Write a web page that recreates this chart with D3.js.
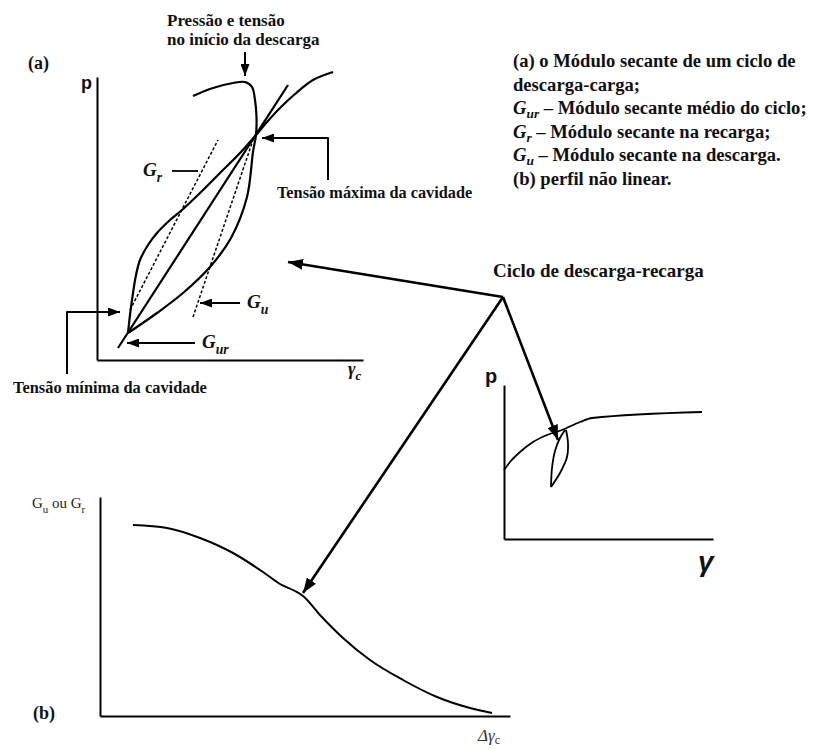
<!DOCTYPE html>
<html>
<head>
<meta charset="utf-8">
<script src="https://cdn.jsdelivr.net/npm/d3@7"></script>
<style>
  body { margin: 0; background: #fff; }
  svg { display: block; }
</style>
</head>
<body>
<svg id="fig" width="816" height="749"></svg>
<script>
// ---------- Panel (a): one unloading–reloading cycle, p vs γc ----------
// Virgin loading up to the start of unloading, then the unloading branch down to the minimum
const unloadCurve = [[96,264],[116,272],[136,277],[148,278],[155,273],[158,260],[159.5,243],[159,225],
                     [156,208],[150,163],[134,122],[113,93],[86,67],[60,47],[31,27]];
// Reloading branch from the minimum back through the maximum and onward
const reloadCurve = [[31,27],[33,45],[35,60],[39,85],[43,100],[51,115],[60,127],[73,140],[85,150],
                     [103,167],[123,187],[143,207],[159,225],[170,238],[183,252],[198,266],[216,280],[236,288]];
const gurLine = [[21,12],[191,275]];     // mean secant modulus of the cycle
const grLine  = [[33,50],[121,220]];     // secant modulus on reloading (dashed)
const guLine  = [[96,43],[156,220]];     // secant modulus on unloading (dashed)

// Leaders and arrows in panel (a) units
const grLeader   = [[75,189],[101,189]];
const guArrow    = [[143,57],[103,57]];
const gurArrow   = [[98,17],[30,17]];
const minBracket = [[-30,-14],[-30,48],[23,48]];
const maxBracket = [[231,180],[231,222],[165,222]];
const topArrow   = [[148,308],[148,284]];

// ---------- Panel (c): full p–γ curve with the cycle ----------
const pgCurve  = [[0,69],[6,77],[16,87],[29,97],[43,104],[58,109],[76,117],[88,121],[198,127]];
const loopLeft  = [[47,52],[48,71],[51,88],[56,101],[61,109]];
const loopRight = [[47,52],[56,66],[63,82],[64,96],[62,109]];
const hub = [-1,242];                    // meeting point of the three arrows
const hubToC = [54,99];

// ---------- Panel (b): non-linear modulus decay ----------
const decayCurve = [[33,191],[67,188],[100,178],[133,163],[163,144],[180,132],[195,125],[203,120],
                    [220,101],[243,78],[270,56],[303,36],[337,19],[370,8],[392,3]];
const hubToA = [191,98];
const hubToB = [203,123];

// Legend block text
const legendRows = [
  [{t:"(a) o Módulo secante de um ciclo de"}],
  [{t:"descarga-carga;"}],
  [{t:"G",it:true},{t:"ur",it:true,sub:true},{t:" – Módulo secante médio do ciclo;"}],
  [{t:"G",it:true},{t:"r",it:true,sub:true},{t:" – Módulo secante na recarga;"}],
  [{t:"G",it:true},{t:"u",it:true,sub:true},{t:" – Módulo secante na descarga."}],
  [{t:"(b) perfil não linear."}]
];

const SERIF = "'Liberation Serif','Times New Roman',serif";
const SANS  = "'Liberation Sans',Arial,sans-serif";
const INK = "#000";
const svg = d3.select("#fig");

// Scales
const xa = d3.scaleLinear().domain([0,266]).range([97,363]);
const ya = d3.scaleLinear().domain([0,283]).range([360,77]);
const xc = d3.scaleLinear().domain([0,209]).range([504,713]);
const yc = d3.scaleLinear().domain([0,154]).range([539,385]);
const xb = d3.scaleLinear().domain([0,410]).range([100,510]);
const yb = d3.scaleLinear().domain([0,219]).range([716,497]);

// Arrowheads
const defs = svg.append("defs");
function marker(id, w, h) {
  defs.append("marker").attr("id", id).attr("markerUnits","userSpaceOnUse")
    .attr("markerWidth", w).attr("markerHeight", h)
    .attr("refX", w).attr("refY", h/2).attr("orient","auto")
    .append("path").attr("d", `M0,0 L${w},${h/2} L0,${h} Z`).attr("fill", INK);
}
marker("headS", 12, 9);
marker("headL", 15, 11);

function rich(sel, x, y, segs, o) {
  const t = sel.append("text").attr("x", x).attr("y", y)
    .attr("font-family", o.family || SERIF).attr("font-size", o.size)
    .attr("font-weight", o.weight || "bold").attr("fill", o.fill || "#111");
  let shift = 0;
  segs.forEach(s => {
    const target = s.sub ? Math.round(o.size * (o.subShift || 0.3)) : 0;
    const sp = t.append("tspan").attr("dy", target - shift).text(s.t);
    shift = target;
    if (s.sub) sp.attr("font-size", o.size * 0.72);
    if (s.it) sp.attr("font-style", "italic");
  });
  return t;
}

function axes(g, x, y, w) {
  g.append("g").attr("transform", `translate(${x.range()[0]},0)`)
    .call(d3.axisLeft(y).ticks(0).tickSizeOuter(0))
    .select(".domain").attr("stroke", INK).attr("stroke-width", w);
  g.append("g").attr("transform", `translate(0,${y.range()[0]})`)
    .call(d3.axisBottom(x).ticks(0).tickSizeOuter(0))
    .select(".domain").attr("stroke", INK).attr("stroke-width", w);
}

function path(g, data, x, y, curve, opts) {
  const line = d3.line().x(d => x(d[0])).y(d => y(d[1])).curve(curve || d3.curveLinear);
  const p = g.append("path").attr("d", line(data)).attr("fill","none")
    .attr("stroke", INK).attr("stroke-width", opts.w || 2)
    .attr("stroke-linejoin","round").attr("stroke-linecap","butt");
  if (opts.dash) p.attr("stroke-dasharray", opts.dash);
  if (opts.head) p.attr("marker-end", `url(#${opts.head})`);
  return p;
}

// ===== Panel (a) =====
const ga = svg.append("g");
axes(ga, xa, ya, 2);
path(ga, unloadCurve, xa, ya, d3.curveCatmullRom.alpha(0.5), {w:2.2});
path(ga, reloadCurve, xa, ya, d3.curveCatmullRom.alpha(0.5), {w:2.2});
path(ga, gurLine, xa, ya, null, {w:2.2});
path(ga, grLine, xa, ya, null, {w:1.5, dash:"3,2"});
path(ga, guLine, xa, ya, null, {w:1.5, dash:"3,2"});
path(ga, grLeader, xa, ya, null, {w:1.8});
path(ga, guArrow, xa, ya, null, {w:1.8, head:"headS"});
path(ga, gurArrow, xa, ya, null, {w:1.8, head:"headS"});
path(ga, minBracket, xa, ya, null, {w:2, head:"headS"});
path(ga, maxBracket, xa, ya, null, {w:2, head:"headS"});
path(ga, topArrow, xa, ya, null, {w:2, head:"headS"});

rich(ga, 28, 69, [{t:"(a)"}], {size:18});
rich(ga, 81, 89, [{t:"p"}], {size:18, family:SANS});
rich(ga, 348, 375, [{t:"γ",it:true},{t:"c",it:true,sub:true}], {size:18});
rich(ga, 167, 26, [{t:"Pressão e tensão"}], {size:17});
rich(ga, 167, 45, [{t:"no início da descarga"}], {size:17});
rich(ga, 143, 176, [{t:"G",it:true},{t:"r",it:true,sub:true}], {size:19});
rich(ga, 247, 308, [{t:"G",it:true},{t:"u",it:true,sub:true}], {size:19});
rich(ga, 202, 348, [{t:"G",it:true},{t:"ur",it:true,sub:true}], {size:19});
rich(ga, 277, 198, [{t:"Tensão máxima da cavidade"}], {size:16.3});
rich(ga, 13, 393, [{t:"Tensão mínima da cavidade"}], {size:16.4});

// ===== Legend =====
legendRows.forEach((row, i) => rich(svg, 513, 67 + i * 23.5, row, {size:18.6, subShift:0.2}));

// ===== Panel (c) =====
const gc = svg.append("g");
axes(gc, xc, yc, 2);
path(gc, pgCurve, xc, yc, d3.curveMonotoneX, {w:1.8});
path(gc, loopLeft, xc, yc, d3.curveCatmullRom, {w:1.8});
path(gc, loopRight, xc, yc, d3.curveCatmullRom, {w:1.8});
rich(gc, 485, 383, [{t:"p"}], {size:20, family:SANS});
rich(gc, 698, 571, [{t:"γ",it:true}], {size:28, family:SANS});

// ===== Panel (b) =====
const gb = svg.append("g");
axes(gb, xb, yb, 2);
path(gb, decayCurve, xb, yb, d3.curveMonotoneX, {w:2});
rich(gb, 32, 508, [{t:"G"},{t:"u",sub:true},{t:" ou G"},{t:"r",sub:true}], {size:15, weight:"normal", fill:"#222"});
rich(gb, 33, 719, [{t:"(b)"}], {size:18});
rich(gb, 478, 741, [{t:"Δγ",it:true},{t:"c",sub:true}], {size:17, weight:"normal", fill:"#333", subShift:0.2});

// ===== Hub arrows from the cycle label to each panel =====
const hx = xc(hub[0]), hy = yc(hub[1]);
rich(svg, 493, 277, [{t:"Ciclo de descarga-recarga"}], {size:19});
[[xa(hubToA[0]), ya(hubToA[1])],
 [xb(hubToB[0]), yb(hubToB[1])],
 [xc(hubToC[0]), yc(hubToC[1])]].forEach(tip => {
  svg.append("line").attr("x1", hx).attr("y1", hy).attr("x2", tip[0]).attr("y2", tip[1])
    .attr("stroke", INK).attr("stroke-width", 2.6).attr("marker-end", "url(#headL)");
});
</script>
</body>
</html>
